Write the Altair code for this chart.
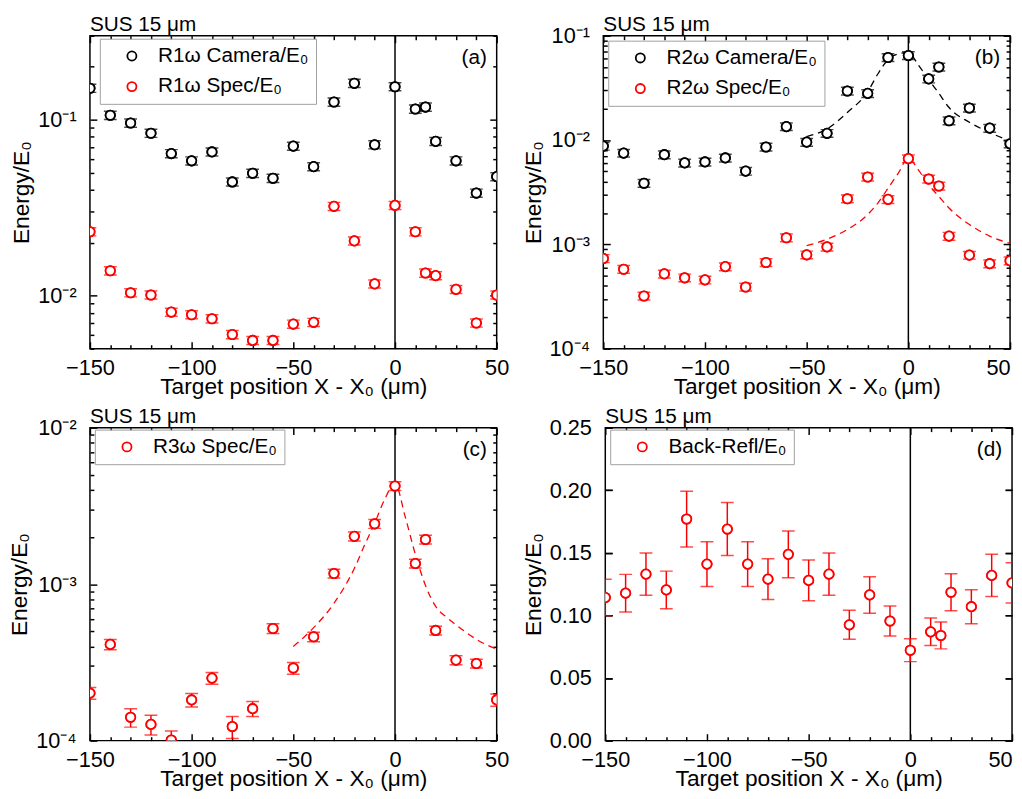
import altair as alt
import pandas as pd

# ---------------- data ----------------
X_POS = [-150, -140, -130, -120, -110, -100, -90, -80, -70, -60, -50, -40,
         -30, -20, -10, 0, 10, 15, 20, 30, 40, 50]

A_CAM = [0.151, 0.106, 0.0958, 0.0838, 0.0642, 0.0584, 0.0656, 0.0443, 0.0496, 0.0465, 0.0708,
         0.0541, 0.126, 0.161, 0.0721, 0.154, 0.115, 0.118, 0.0753, 0.0584, 0.0383, 0.0475]
A_SPEC = [0.0231, 0.01386, 0.0104, 0.0101, 0.00807, 0.0078, 0.0074, 0.00602, 0.00557, 0.00557,
          0.0069, 0.00706, 0.0322, 0.0205, 0.01167, 0.0326, 0.0231, 0.01346, 0.0130, 0.01086,
          0.0070, 0.0101]
A_REL_ERR = 0.053

B_CAM = [0.00875, 0.0075, 0.00385, 0.00724, 0.00604, 0.00617, 0.00674, 0.00504, 0.00857, 0.01346,
         0.00955, 0.0116, 0.0295, 0.0280, 0.0619, 0.0647, 0.0386, 0.0501, 0.0153, 0.0203, 0.0130,
         0.0092]
B_SPEC = [0.000733, 0.000577, 0.00032, 0.000521, 0.000478, 0.000457, 0.000612, 0.00039, 0.000671,
          0.001158, 0.000794, 0.000946, 0.002735, 0.00442, 0.0027, 0.00664, 0.00423, 0.00363,
          0.0012, 0.000789, 0.000653, 0.000697]
B_REL_ERR = 0.085

C_SPEC = [0.000201, 0.000412, 0.000141, 0.000127, 0.000101, 0.000182, 0.000251, 0.000123, 0.00016,
          0.000521, 0.000291, 0.000461, 0.00117, 0.00202, 0.00243, 0.00424, 0.001355, 0.00193,
          0.000506, 0.000327, 0.000311, 0.000182]
C_REL_ERR = [0.086, 0.075, 0.135, 0.145, 0.14, 0.10, 0.086, 0.16, 0.11, 0.07, 0.086, 0.07,
             0.065, 0.065, 0.065, 0.065, 0.065, 0.065, 0.065, 0.065, 0.065, 0.09]

D_BACK = [0.1143, 0.1178, 0.133, 0.1204, 0.177, 0.141, 0.169, 0.141, 0.129, 0.1488, 0.128, 0.133,
          0.0925, 0.1164, 0.0956, 0.0722, 0.0869, 0.084, 0.1185, 0.107, 0.132, 0.126]
D_ERR = [0.0146, 0.015, 0.0169, 0.015, 0.0223, 0.0178, 0.0212, 0.0178, 0.0162, 0.0187, 0.0162,
         0.0169, 0.0116, 0.0146, 0.012, 0.0091, 0.011, 0.0107, 0.0148, 0.0136, 0.0169, 0.0161]

# dashed fit curves
B_FIT_X = [-50, -40, -30, -20, -15, -10, -5, 0, 5, 10, 15, 20, 30, 40, 50]
B_FIT_CAM = [0.0108, 0.0128, 0.0184, 0.029, 0.043, 0.059, 0.067, 0.069, 0.052, 0.038, 0.028,
             0.0205, 0.0148, 0.0118, 0.0098]
B_FIT_SPEC = [0.00097, 0.00112, 0.00139, 0.00193, 0.00249, 0.00345, 0.0048, 0.0067, 0.00515,
              0.00372, 0.00288, 0.00223, 0.00155, 0.0012, 0.00102]
C_FIT_X = [-50, -45, -40, -30, -20, -15, -10, -5, 0, 5, 10, 15, 20, 25, 30, 40, 50]
C_FIT = [0.0004, 0.000455, 0.000527, 0.000755, 0.00126, 0.00177, 0.00245, 0.0035, 0.0044, 0.0027,
         0.00155, 0.00098, 0.00072, 0.00062, 0.00055, 0.000444, 0.000384]

X_MAJOR = [-150, -100, -50, 0]
X_LAST = [50]
X_MINOR = [v for v in range(-140, 50, 10) if v % 50 != 0]

# ---------------- style ----------------
FONT = "Liberation Sans"
W, H = 412, 317
BLACK, RED = "#000000", "#ff0000"
X_TITLE = "Target position X - X₀ (μm)"
Y_TITLE = "Energy/E₀"
PANEL_TITLE = "SUS 15 μm"
LOG_LABEL = ("datum.value > 0.05 ? '10⁻¹' : datum.value > 0.005 ? '10⁻²' : "
             "datum.value > 0.0005 ? '10⁻³' : '10⁻⁴'")


def log_minor(lo, hi):
    out = []
    for k in range(-5, 1):
        for m in range(2, 10):
            v = m * 10.0 ** k
            if lo * 0.999 <= v <= hi * 1.001:
                out.append(v)
    return out


def make_panel(series, fits, ydomain, ylog, ymajor, yminor, legend_x, legend_y, tag, last_align):
    rows = []
    for name, color, vals, errs in series:
        for x, v, e in zip(X_POS, vals, errs):
            rows.append(dict(series=name, x=x, y=v, lo=v - e, hi=v + e))
    df = pd.DataFrame(rows)
    names = [s[0] for s in series]
    colors = [s[1] for s in series]

    xs = alt.Scale(domain=[-150, 50], nice=False, zero=False)
    if ylog:
        ys = alt.Scale(type="log", domain=ydomain, nice=False)
    else:
        ys = alt.Scale(domain=ydomain, nice=False, zero=False)
    cs = alt.Scale(domain=names, range=colors)
    base = alt.Chart(df)
    hidden = dict(opacity=0, clip=True)

    def X(field="x", axis=None):
        return alt.X(f"{field}:Q", scale=xs, axis=axis)

    def Y(field="y", axis=None):
        return alt.Y(f"{field}:Q", scale=ys, axis=axis)

    ylab = dict(labelExpr=LOG_LABEL) if ylog else dict(format=".2f")
    xlab = dict(tickSize=7, offset=-7, labelPadding=9, labelFlush=False)

    ax1 = base.mark_point(**hidden).encode(
        x=X(axis=alt.Axis(orient="bottom", values=X_MAJOR, title=X_TITLE, titlePadding=-3,
                          **xlab)),
        y=Y(axis=alt.Axis(orient="left", values=ymajor, tickSize=7, offset=-7, labelPadding=14,
                          labelFlush=False, title=Y_TITLE, titlePadding=4, **ylab)),
    )
    ax1b = base.mark_point(**hidden).encode(
        x=X(axis=alt.Axis(orient="bottom", values=X_LAST, title=None, labelAlign=last_align,
                          **xlab)),
        y=Y(),
    )
    ax2 = base.mark_point(**hidden).encode(
        x=X(axis=alt.Axis(orient="bottom", values=X_MINOR, tickSize=4, offset=-4, labels=False,
                          title=None)),
        y=Y(axis=alt.Axis(orient="left", values=yminor if yminor else ymajor,
                          tickSize=4 if yminor else 7, offset=-4 if yminor else -7,
                          labels=False, title=None)),
    )
    ax3 = base.mark_point(**hidden).encode(
        x=X(axis=alt.Axis(orient="top", values=X_MAJOR + X_LAST, tickSize=7, offset=-7,
                          labels=False, title=None)),
        y=Y(axis=alt.Axis(orient="right", values=ymajor, tickSize=7, offset=-7, labels=False,
                          title=None)),
    )
    ax4 = base.mark_point(**hidden).encode(
        x=X(axis=alt.Axis(orient="top", values=X_MINOR, tickSize=4, offset=-4, labels=False,
                          title=None)),
        y=Y(axis=alt.Axis(orient="right", values=yminor if yminor else ymajor,
                          tickSize=4 if yminor else 7, offset=-4 if yminor else -7,
                          labels=False, title=None)),
    )

    zero = alt.Chart(pd.DataFrame({"x": [0]})).mark_rule(color=BLACK, strokeWidth=1.5).encode(
        x=X())

    # the only colour-encoded layer: carries the legend (open symbols)
    pts_legend = base.mark_point(shape="circle", filled=False, size=90, strokeWidth=1.8,
                                 opacity=1, clip=True).encode(
        x=X(), y=Y(),
        color=alt.Color("series:N", scale=cs, legend=alt.Legend(
            orient="none", legendX=legend_x, legendY=legend_y, title=None,
            strokeColor="#a0a0a0", fillColor="white", padding=7, symbolType="circle",
            symbolSize=85, symbolStrokeWidth=1.8, labelFontSize=21, labelFont=FONT,
            labelColor="black", rowPadding=9, symbolOffset=15, labelOffset=16,
            cornerRadius=0)))

    layers = [ax1, ax1b, ax2, ax3, ax4, zero, pts_legend]

    for fx, fy, fcolor in fits:
        fdf = pd.DataFrame({"x": fx, "y": fy})
        layers.append(
            alt.Chart(fdf).mark_line(strokeDash=[7, 5], strokeWidth=1.3, clip=True, color=fcolor,
                                     interpolate="monotone").encode(x=X(), y=Y()))

    for name, color, _, _ in series:
        sb = base.transform_filter(alt.datum.series == name)
        layers += [
            sb.mark_rule(strokeWidth=1.5, clip=True, color=color).encode(
                x=X(), y=Y("lo"), y2="hi:Q"),
            sb.mark_tick(orient="horizontal", size=13, thickness=1.5, clip=True,
                         color=color).encode(x=X(), y=Y("lo")),
            sb.mark_tick(orient="horizontal", size=13, thickness=1.5, clip=True,
                         color=color).encode(x=X(), y=Y("hi")),
            sb.mark_point(shape="circle", filled=False, fill="white", stroke=color, size=90,
                          strokeWidth=1.8, opacity=1, clip=True).encode(x=X(), y=Y()),
        ]

    txt = pd.DataFrame({"t": [tag], "s": [PANEL_TITLE]})
    tag_layer = alt.Chart(txt).mark_text(
        align="right", baseline="alphabetic", fontSize=21, font=FONT, color="black").encode(
        x=alt.value(W - 10), y=alt.value(29), text="t:N")
    title_layer = alt.Chart(txt).mark_text(
        align="left", baseline="alphabetic", fontSize=21, font=FONT, color="black").encode(
        x=alt.value(0), y=alt.value(-5), text="s:N")

    layers += [tag_layer, title_layer]

    return alt.layer(*layers).resolve_axis(x="independent", y="independent").properties(
        width=W, height=H)


def rel(vals, r):
    return [v * r for v in vals] if not isinstance(r, list) else [v * q for v, q in zip(vals, r)]


pa = make_panel(
    [("R1ω Camera/E₀", BLACK, A_CAM, rel(A_CAM, A_REL_ERR)),
     ("R1ω Spec/E₀", RED, A_SPEC, rel(A_SPEC, A_REL_ERR))],
    [], [0.005, 0.3], True, [0.01, 0.1], log_minor(0.005, 0.3), 10, 3, "(a)", "center")

pb = make_panel(
    [("R2ω Camera/E₀", BLACK, B_CAM, rel(B_CAM, B_REL_ERR)),
     ("R2ω Spec/E₀", RED, B_SPEC, rel(B_SPEC, B_REL_ERR))],
    [(B_FIT_X, B_FIT_CAM, BLACK), (B_FIT_X, B_FIT_SPEC, RED)],
    [1e-4, 0.1], True, [1e-4, 1e-3, 1e-2, 1e-1], log_minor(1e-4, 0.1), 5, 5, "(b)", "right")

pc = make_panel(
    [("R3ω Spec/E₀", RED, C_SPEC, rel(C_SPEC, C_REL_ERR))],
    [(C_FIT_X, C_FIT, RED)],
    [1e-4, 1e-2], True, [1e-4, 1e-3, 1e-2], log_minor(1e-4, 1e-2), 5, 2, "(c)", "center")

pd_ = make_panel(
    [("Back-Refl/E₀", RED, D_BACK, D_ERR)],
    [], [0, 0.25], False, [0, 0.05, 0.10, 0.15, 0.20, 0.25], [], 5, 2, "(d)", "right")

row1 = alt.hconcat(pa, pb, spacing=12).resolve_scale(color="independent").resolve_legend(
    color="independent")
row2 = alt.hconcat(pc, pd_, spacing=12).resolve_scale(color="independent").resolve_legend(
    color="independent")

chart = alt.vconcat(row1, row2, spacing=6).resolve_scale(color="independent").resolve_legend(
    color="independent"
).configure(
    font=FONT, padding={"left": 0, "top": 0, "right": 0, "bottom": 0}
).configure_view(
    stroke="black", strokeWidth=1.5
).configure_axis(
    grid=False, domain=False, tickColor="black", tickWidth=1.5, labelColor="black",
    titleColor="black", labelFontSize=22, titleFontSize=23, titleFontWeight="normal",
    labelFont=FONT, titleFont=FONT, minExtent=0
)

chart.save("out.html", embed_options={"renderer": "svg", "actions": False})
